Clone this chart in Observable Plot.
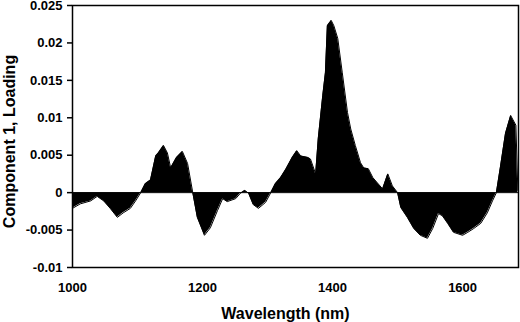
<!DOCTYPE html>
<html>
<head>
<meta charset="utf-8">
<script src="https://cdn.jsdelivr.net/npm/d3@7"></script>
<script src="https://cdn.jsdelivr.net/npm/@observablehq/plot@0.6"></script>
<style>
  html, body { margin: 0; padding: 0; background: #fff; }
  svg { font-family: "Liberation Sans", Arial, sans-serif; font-weight: bold; }
</style>
</head>
<body>
<div id="chart"></div>
<script>
const wavelength = [1000,1012,1028,1038,1048,1058,1069,1078,1089,1097,1105,1112,1120,1128,1132,1140,1146,1151,1160,1169,1177,1185,1192,1203,1212,1223,1231,1238,1251,1258,1265,1271,1278,1286,1297,1305,1312,1320,1328,1338,1345,1351,1362,1366,1374,1378,1385,1389,1392,1398,1402,1408,1415,1423,1428,1435,1443,1448,1455,1462,1469,1477,1485,1492,1500,1505,1515,1525,1535,1546,1554,1563,1569,1577,1586,1600,1608,1617,1628,1638,1646,1652,1658,1666,1674,1682,1685];
const loading = [-0.0021,-0.0015,-0.0011,-0.0005,-0.0011,-0.0021,-0.0033,-0.0027,-0.0021,-0.0011,0,0.0012,0.0017,0.0049,0.0053,0.0063,0.0053,0.0033,0.0047,0.0055,0.0039,0,-0.0033,-0.0057,-0.0047,-0.0024,-0.0008,-0.0012,-0.0008,-0.0001,0.0003,-0.0001,-0.0016,-0.0021,-0.0013,0,0.0012,0.0020,0.0031,0.0047,0.0056,0.0049,0.0047,0.0045,0.0025,0.0072,0.0130,0.0160,0.0223,0.0230,0.0223,0.0206,0.0160,0.0107,0.0085,0.0063,0.0040,0.0033,0.0032,0.0020,0.0013,0.0005,0.0025,0.0009,0,-0.0020,-0.0033,-0.0048,-0.0057,-0.0061,-0.0048,-0.0028,-0.0031,-0.0041,-0.0053,-0.0057,-0.0053,-0.0048,-0.0041,-0.0027,-0.0011,0,0.0033,0.0079,0.0103,0.0090,0.0003];
const xTicks = [1000, 1200, 1400, 1600];
const yTicks = [-0.01, -0.005, 0, 0.005, 0.01, 0.015, 0.02, 0.025];
const xTitle = "Wavelength (nm)";
const yTitle = "Component 1, Loading";

const data = wavelength.map((w, i) => ({w, v: loading[i]}));
const fmt = d => { const s = String(+d.toFixed(3)); return s === "-0" ? "0" : s; };

const chart = Plot.plot({
  width: 520,
  height: 322,
  marginLeft: 72,
  marginRight: 2,
  marginTop: 5,
  marginBottom: 55,
  style: {fontFamily: "'Liberation Sans', Arial, sans-serif", fontWeight: "bold", background: "#fff"},
  x: {domain: [1000, 1686]},
  y: {domain: [-0.01, 0.025]},
  marks: [
    Plot.areaY(data, {x: "w", y: "v", fill: "black"}),
    Plot.lineY(data, {x: "w", y: "v", stroke: "black", strokeWidth: 1}),
    Plot.ruleY([0], {stroke: "black", strokeWidth: 1}),
    Plot.frame({stroke: "black", strokeWidth: 1.5}),
    Plot.axisY(yTicks, {anchor: "left", tickSize: 5, tickPadding: 5, tickFormat: fmt, fontSize: 13, fill: "black", stroke: "black", strokeWidth: 1.5, label: null}),
    Plot.axisX(xTicks, {anchor: "bottom", tickSize: 0, tickPadding: 15, tickFormat: d => String(d), fontSize: 13, fill: "black", label: null}),
    Plot.text([yTitle], {frameAnchor: "left", textAnchor: "middle", rotate: -90, dx: -63, dy: 5, fontSize: 16, fontWeight: "bold", fill: "black", lineAnchor: "middle"}),
    Plot.text([xTitle], {frameAnchor: "bottom", textAnchor: "middle", dx: -10, dy: 46, fontSize: 16, fontWeight: "bold", fill: "black", lineAnchor: "middle"})
  ]
});
document.getElementById("chart").appendChild(chart);
</script>
</body>
</html>
